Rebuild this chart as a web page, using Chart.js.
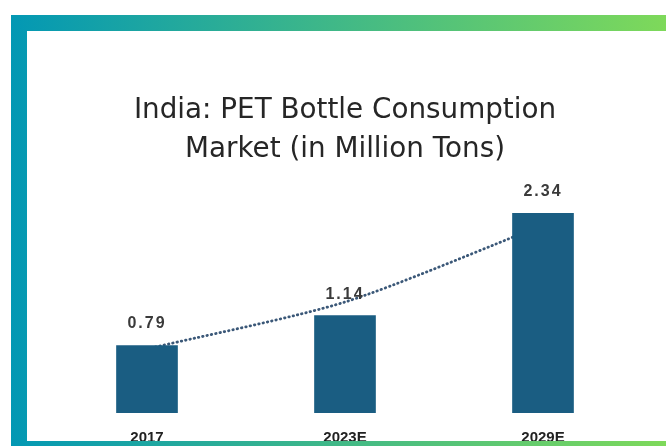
<!DOCTYPE html>
<html>
<head>
<meta charset="utf-8">
<script src="https://cdn.jsdelivr.net/npm/chart.js@4"></script>
<style>
  html,body{margin:0;padding:0;background:#fff;}
  body{width:666px;height:446px;overflow:hidden;position:relative;}
  #frame{position:absolute;left:11px;top:15px;width:655px;height:431px;
    background:linear-gradient(90deg,#0398b4 0%,#7ed95a 100%);}
  #panel{position:absolute;left:16px;top:16px;width:639px;height:410px;background:#fff;overflow:hidden;}
  #c{display:block;}
</style>
</head>
<body>
<div id="frame"><div id="panel"><canvas id="c" width="639" height="432"></canvas></div></div>
<script>
// India PET bottle consumption — bars + dotted trend line
var titleLines = ["India: PET Bottle Consumption", "Market (in Million Tons)"];
var years = ["2017", "2023E", "2029E"];
var consumption = [0.79, 1.14, 2.34];
var trend = [0.75, 1.30, 2.20];   // dotted trendline
var yMax = 2.8;

var barLabels = {
  id: "barLabels",
  afterDatasetsDraw: function (chart) {
    var ctx = chart.ctx, meta = chart.getDatasetMeta(0);
    ctx.save();
    ctx.font = "bold 16px 'Liberation Sans', Arial, sans-serif";
    ctx.fillStyle = "#3a3a3a";
    ctx.textAlign = "center";
    ctx.textBaseline = "middle";
    try { ctx.letterSpacing = "2px"; } catch (e) {}
    meta.data.forEach(function (bar, i) {
      ctx.fillText(consumption[i].toFixed(2), bar.x, bar.y - 21.5);
    });
    ctx.restore();
  }
};

new Chart(document.getElementById("c").getContext("2d"), {
  data: {
    labels: years,
    datasets: [
      { type: "bar", data: consumption, backgroundColor: "#1a5d82", barThickness: 61, order: 0 },
      { type: "line", data: trend, borderColor: "#3b5878", borderWidth: 2.8, borderDash: [0.5, 3.9],
        borderCapStyle: "round", tension: 0.25, pointRadius: 0, fill: false, order: 1 }
    ]
  },
  options: {
    responsive: false, animation: false, devicePixelRatio: 1,
    layout: { padding: { left: 21, right: 24, top: 0, bottom: 0 } },
    plugins: {
      legend: { display: false }, tooltip: { enabled: false },
      title: { display: true, text: titleLines, color: "#262626",
        font: { family: "'DejaVu Sans', sans-serif", size: 27.8, weight: "normal", lineHeight: 1.42 },
        padding: { top: 60, bottom: 4 } }
    },
    scales: {
      x: { grid: { display: false, drawTicks: false }, border: { display: false },
        ticks: { padding: 16, color: "#222", font: { family: "'Liberation Sans', Arial, sans-serif", size: 15, weight: "bold" } } },
      y: { display: false, min: 0, max: yMax }
    }
  },
  plugins: [barLabels]
});
</script>
</body>
</html>
